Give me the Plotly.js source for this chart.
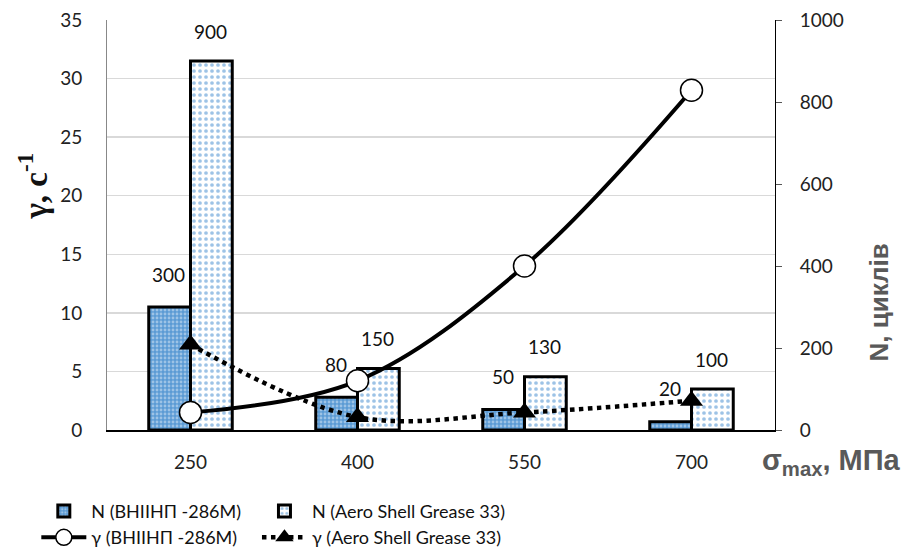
<!DOCTYPE html>
<html><head><meta charset="utf-8">
<script src="https://cdn.plot.ly/plotly-3.0.1.min.js"></script>
<style>body{margin:0;background:#fff}#c{width:908px;height:558px}</style>
</head><body><div id="c"></div>
<script>
const categories = ["250", "400", "550", "700"];
const nVniinp = [300, 80, 50, 20];
const nAero = [900, 150, 130, 100];
const gammaVniinp = [1.5, 4.2, 14.0, 29.0];
const gammaAero = [7.3, 1.1, 1.5, 2.5];
const leftTicks = [0, 5, 10, 15, 20, 25, 30, 35];
const rightTicks = [0, 200, 400, 600, 800, 1000];

const FONT = "Lato, 'Open Sans', sans-serif";
const traces = [
  {type:"bar", name:"N (ВНІІНП -286М)", x:categories, y:nVniinp, yaxis:"y", legend:"legend",
   marker:{color:"#5b9bd5", line:{color:"#000", width:3},
     pattern:{shape:".", bgcolor:"#5b9bd5", fgcolor:"#9dc3e6", size:4, solidity:0.4}}},
  {type:"scatter", mode:"lines+markers", name:"γ (ВНІІНП -286М)", x:categories, y:gammaVniinp, yaxis:"y2", legend:"legend",
   line:{color:"#000", width:4, shape:"spline"},
   marker:{symbol:"circle", size:22, color:"#fff", line:{color:"#000", width:1.5}}},
  {type:"bar", name:"N (Aero Shell Grease 33)", x:categories, y:nAero, yaxis:"y", legend:"legend2",
   marker:{color:"#ffffff", line:{color:"#000", width:3},
     pattern:{shape:".", bgcolor:"#ffffff", fgcolor:"#9dc3e6", size:6, solidity:0.3}}},
  {type:"scatter", mode:"lines+markers", name:"γ (Aero Shell Grease 33)", x:categories, y:gammaAero, yaxis:"y2", legend:"legend2",
   line:{color:"#000", width:4.5, dash:"dot", shape:"spline"},
   marker:{symbol:"triangle-up", size:20, color:"#000"}}
];

const annotations = [];
categories.forEach((c, i) => {
  annotations.push({x:i, y:nVniinp[i], xref:"x", yref:"y", text:String(nVniinp[i]), showarrow:false,
    xshift:-22, yshift:33, font:{family:FONT, size:19, color:"#111"}});
  annotations.push({x:i, y:nAero[i], xref:"x", yref:"y", text:String(nAero[i]), showarrow:false,
    xshift:20, yshift:30, font:{family:FONT, size:19, color:"#111"}});
});
annotations.push({xref:"paper", yref:"paper", x:-0.11, y:0.595, xanchor:"center", yanchor:"middle",
  text:"<b>γ, с<sup>-1</sup></b>", textangle:-90,
  showarrow:false, font:{family:"'Liberation Serif', 'DejaVu Serif', serif", size:33, color:"#111"}});
annotations.push({xref:"paper", yref:"paper", x:1.155, y:0.31, xanchor:"center", yanchor:"middle",
  text:"<b>N, циклів</b>", textangle:-90,
  showarrow:false, font:{family:"'Liberation Sans', sans-serif", size:26, color:"#595959"}});
annotations.push({xref:"paper", yref:"paper", x:1.084, y:-0.078, xanchor:"center", yanchor:"middle",
  text:"<b>σ<sub>max</sub>, МПа</b>",
  showarrow:false, font:{family:"'Liberation Sans', sans-serif", size:29, color:"#595959"}});

const legendCommon = {orientation:"v", xref:"container", yref:"container", yanchor:"top", xanchor:"left",
  itemwidth:45, font:{family:FONT, size:18, color:"#111"}, tracegroupgap:0, bgcolor:"rgba(0,0,0,0)"};
const layout = {
  width:908, height:558, margin:{l:107, r:133, t:20, b:128, autoexpand:false},
  paper_bgcolor:"#fff", plot_bgcolor:"#fff",
  font:{family:FONT, size:18, color:"#222"},
  barmode:"group", bargap:0.5, bargroupgap:0,
  showlegend:true,
  xaxis:{type:"category", range:[-0.5, 3.5], showline:true, linecolor:"#000", linewidth:2,
    ticks:"", tickfont:{size:19}, showgrid:false, ticklabelstandoff:14},
  yaxis:{range:[0, 1000], tickvals:rightTicks, side:"right", showgrid:false,
    showline:true, linecolor:"#000", linewidth:1, ticks:"outside", ticklen:6, tickcolor:"#555",
    zeroline:false, tickfont:{size:19}, ticklabelstandoff:14},
  yaxis2:{range:[0, 35], tickvals:leftTicks, overlaying:"y", side:"left", showgrid:true, gridcolor:"#d9d9d9", gridwidth:1.5,
    showline:true, linecolor:"#888", linewidth:1, ticks:"", zeroline:false, tickfont:{size:19}, ticklabelstandoff:20},
  legend:Object.assign({}, legendCommon, {x:0.04, y:0.117}),
  legend2:Object.assign({}, legendCommon, {x:0.283, y:0.117}),
  annotations:annotations
};
Plotly.newPlot("c", traces, layout, {displayModeBar:false, staticPlot:true});
</script></body></html>
